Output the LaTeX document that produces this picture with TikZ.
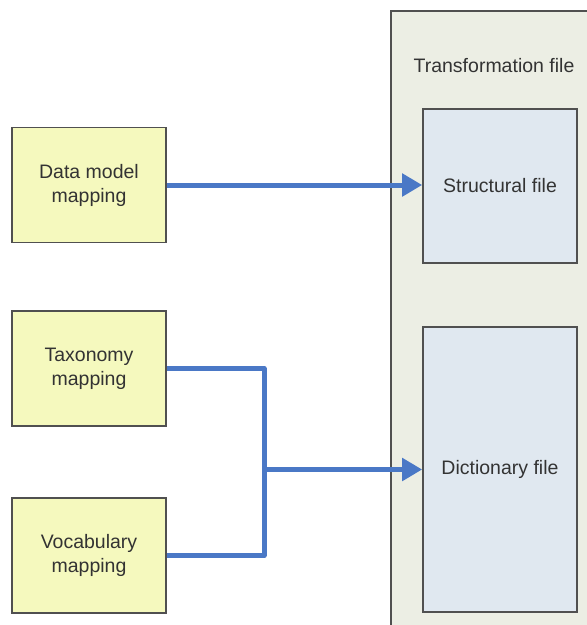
\documentclass[tikz,border=0pt]{standalone}
\usepackage{fontspec}
\setmainfont{Liberation Sans}
\usetikzlibrary{arrows.meta}
\definecolor{mapfill}{HTML}{F5F9BE}
\definecolor{tffill}{HTML}{ECEEE4}
\definecolor{filefill}{HTML}{E0E8F0}
\definecolor{edge}{HTML}{505050}
\definecolor{conncol}{HTML}{4A78C6}
\definecolor{txt}{HTML}{333333}
\tikzset{
  mapbox/.style={draw=edge, line width=1.6pt, fill=mapfill, minimum width=154pt, minimum height=115pt, align=center, text=txt, font=\fontsize{19.5}{24}\selectfont, inner sep=0pt},
  filebox/.style={draw=edge, line width=1.6pt, fill=filefill, minimum width=154pt, align=center, text=txt, font=\fontsize{19.5}{24}\selectfont, inner sep=0pt},
  contbox/.style={draw=edge, line width=1.6pt, fill=tffill, anchor=north west, minimum width=240pt, minimum height=660pt, inner sep=0pt},
  lbl/.style={text=txt, font=\fontsize{19.5}{24}\selectfont, inner sep=0pt},
  conn/.style={draw=conncol, line width=5pt, line join=round},
  arr/.style={conn, -{Triangle[length=20pt,width=22pt]}}
}
\begin{document}
\begin{tikzpicture}[x=1pt,y=-1pt]
\useasboundingbox[fill=white] (0,0) rectangle (587,625);
\node[contbox] (tf) at (390,10) {};
\node[lbl] (tflabel) at (494,66) {Transformation file};
\node[filebox, minimum height=154pt] (struct) at (500,186) {Structural file};
\node[filebox, minimum height=285pt] (dict) at (500,469.5) {Dictionary file};
\node[mapbox] (dm) at (89,185) {Data model\\mapping};
\node[mapbox] (tax) at (89,368.5) {Taxonomy\\mapping};
\node[mapbox] (voc) at (89,555.5) {Vocabulary\\mapping};
\coordinate (j) at (264,469.5);
\draw[arr] (dm.east) -- (dm.east -| struct.west);
\draw[conn] (tax.east) -| (j) |- (voc.east);
\draw[arr] (j) -- (dict.west);
\end{tikzpicture}
\end{document}
